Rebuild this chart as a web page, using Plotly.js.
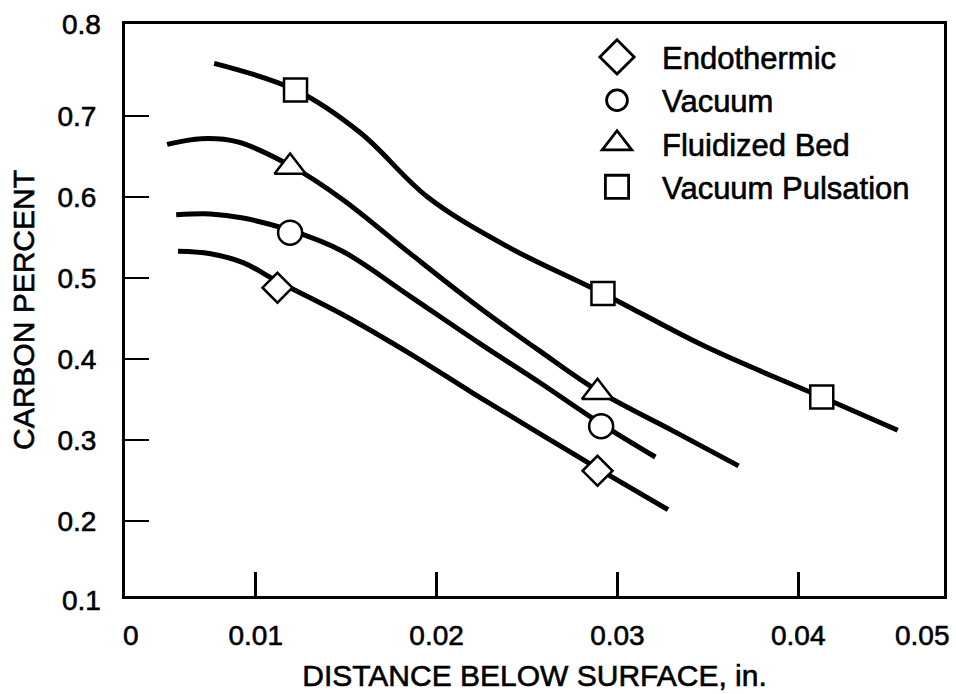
<!DOCTYPE html>
<html>
<head>
<meta charset="utf-8">
<script src="https://cdn.plot.ly/plotly-3.0.1.min.js"></script>
<style>
  html, body { margin: 0; padding: 0; background: #ffffff; }
  #chart { width: 956px; height: 694px; }
  #chart svg text { stroke: #000; stroke-width: 0.6px; paint-order: stroke fill; }
</style>
</head>
<body>
<div id="chart"></div>
<script>
// ---- Data ----
const seriesNames = ["Endothermic", "Vacuum", "Fluidized Bed", "Vacuum Pulsation"];
const seriesSymbols = ["diamond", "circle", "triangle-up", "square"];

// Smooth curves
const endoCurveX = [0.0057, 0.0075, 0.0093, 0.0112, 0.0148, 0.0185, 0.0220, 0.0257, 0.0289, 0.0328];
const endoCurveY = [0.533, 0.530, 0.519, 0.496, 0.455, 0.407, 0.358, 0.308, 0.265, 0.214];

const vacCurveX = [0.0056, 0.0075, 0.0093, 0.0119, 0.0148, 0.0185, 0.0224, 0.0257, 0.0291, 0.0321];
const vacCurveY = [0.578, 0.579, 0.574, 0.559, 0.533, 0.478, 0.419, 0.371, 0.320, 0.279];

const fbCurveX = [0.0051, 0.0070, 0.0090, 0.0119, 0.0148, 0.0185, 0.0224, 0.0257, 0.0289, 0.0331, 0.0367];
const fbCurveY = [0.665, 0.672, 0.668, 0.639, 0.597, 0.531, 0.463, 0.410, 0.361, 0.311, 0.268];

const vpCurveX = [0.0077, 0.0122, 0.0158, 0.0195, 0.0239, 0.0292, 0.0349, 0.0413, 0.0455];
const vpCurveY = [0.765, 0.732, 0.679, 0.600, 0.539, 0.481, 0.415, 0.353, 0.312];

// Measured points (markers)
const endoPtsX = [0.0112, 0.0289];
const endoPtsY = [0.488, 0.262];
const vacPtsX = [0.0119, 0.0291];
const vacPtsY = [0.556, 0.317];
const fbPtsX = [0.0119, 0.0289];
const fbPtsY = [0.637, 0.359];
const vpPtsX = [0.0122, 0.0292, 0.0413];
const vpPtsY = [0.732, 0.481, 0.353];

// Axes
const xTickVals = [0.01, 0.02, 0.03, 0.04];
const xTickText = ["0.01", "0.02", "0.03", "0.04"];
const yTickVals = [0.2, 0.3, 0.4, 0.5, 0.6, 0.7];
const yTickText = ["0.2", "0.3", "0.4", "0.5", "0.6", "0.7"];
const xRange = [0.00277, 0.04806];
const yRange = [0.1074, 0.8136];
const xCornerLabels = ["0", "0.05"];
const yCornerLabels = ["0.1", "0.8"];
const xTitle = "DISTANCE BELOW SURFACE, in.";
const yTitle = "CARBON PERCENT";

// ---- Styling ----
const FONT = "Liberation Sans, Arial, Helvetica, sans-serif";
const TICK_SIZE = 28;
const markerSizes = [23, 24, 27, 23];
const legendSymbolScale = [1.65, 1.3, 1.6, 1.45];

// ---- Build traces ----
const curves = [[endoCurveX, endoCurveY], [vacCurveX, vacCurveY], [fbCurveX, fbCurveY], [vpCurveX, vpCurveY]];
const points = [[endoPtsX, endoPtsY], [vacPtsX, vacPtsY], [fbPtsX, fbPtsY], [vpPtsX, vpPtsY]];

const traces = [];
curves.forEach(function (c) {
  traces.push({
    x: c[0], y: c[1], type: "scatter", mode: "lines",
    line: { color: "#000", width: 5, shape: "spline", smoothing: 1 },
    showlegend: false, hoverinfo: "skip"
  });
});
points.forEach(function (p, i) {
  traces.push({
    x: p[0], y: p[1], type: "scatter", mode: "markers",
    name: seriesNames[i],
    marker: {
      symbol: seriesSymbols[i], size: markerSizes[i],
      color: "#ffffff", line: { color: "#000", width: 2.5 }
    }
  });
});

const axisCommon = {
  showgrid: false, zeroline: false, showline: true, mirror: true,
  linecolor: "#000", linewidth: 3,
  ticks: "inside", ticklen: 24, tickwidth: 2.5, tickcolor: "#000",
  tickfont: { family: FONT, size: TICK_SIZE, color: "#000" }
};

function cornerLabel(x, y, text, xanchor, yanchor, xshift, yshift) {
  return { xref: "paper", yref: "paper", x: x, y: y, text: text, showarrow: false,
    xanchor: xanchor, yanchor: yanchor, xshift: xshift, yshift: yshift,
    font: { family: FONT, size: TICK_SIZE, color: "#000" } };
}

const layout = {
  width: 956, height: 694,
  margin: { l: 125, r: 12, t: 24, b: 98 },
  paper_bgcolor: "#fff", plot_bgcolor: "#fff",
  font: { family: FONT, color: "#000" },
  xaxis: Object.assign({}, axisCommon, {
    range: xRange, tickmode: "array", tickvals: xTickVals, ticktext: xTickText,
    ticklabelstandoff: 12,
    title: { text: xTitle, font: { family: FONT, size: 30, color: "#000" }, standoff: 16 }
  }),
  yaxis: Object.assign({}, axisCommon, {
    range: yRange, tickmode: "array", tickvals: yTickVals, ticktext: yTickText,
    ticklabelstandoff: 20,
    title: { text: yTitle, font: { family: FONT, size: 30, color: "#000" }, standoff: 14 }
  }),
  legend: {
    x: 0.5458, y: 0.989, xanchor: "left", yanchor: "top",
    bgcolor: "rgba(0,0,0,0)", borderwidth: 0,
    font: { family: FONT, size: 31, color: "#000" },
    itemwidth: 80, traceorder: "normal"
  },
  annotations: [
    cornerLabel(0, 0, xCornerLabels[0], "center", "top", 6, -22),
    cornerLabel(1, 0, xCornerLabels[1], "center", "top", -22, -22),
    cornerLabel(0, 0, yCornerLabels[0], "right", "middle", -22, -4),
    cornerLabel(0, 1, yCornerLabels[1], "right", "middle", -22, 0)
  ]
};

Plotly.newPlot("chart", traces, layout, { displayModeBar: false, staticPlot: true }).then(function (gd) {
  // enlarge the legend symbols to the size used in the reference key
  const groups = gd.querySelectorAll(".legend .traces");
  groups.forEach(function (g, i) {
    const s = legendSymbolScale[i] || 1;
    g.querySelectorAll("path.scatterpts").forEach(function (p) {
      const tr = p.getAttribute("transform") || "";
      p.setAttribute("transform", tr + " scale(" + s + ")");
      p.style.strokeWidth = (2.8 / s) + "px";
    });
  });
});
</script>
</body>
</html>
